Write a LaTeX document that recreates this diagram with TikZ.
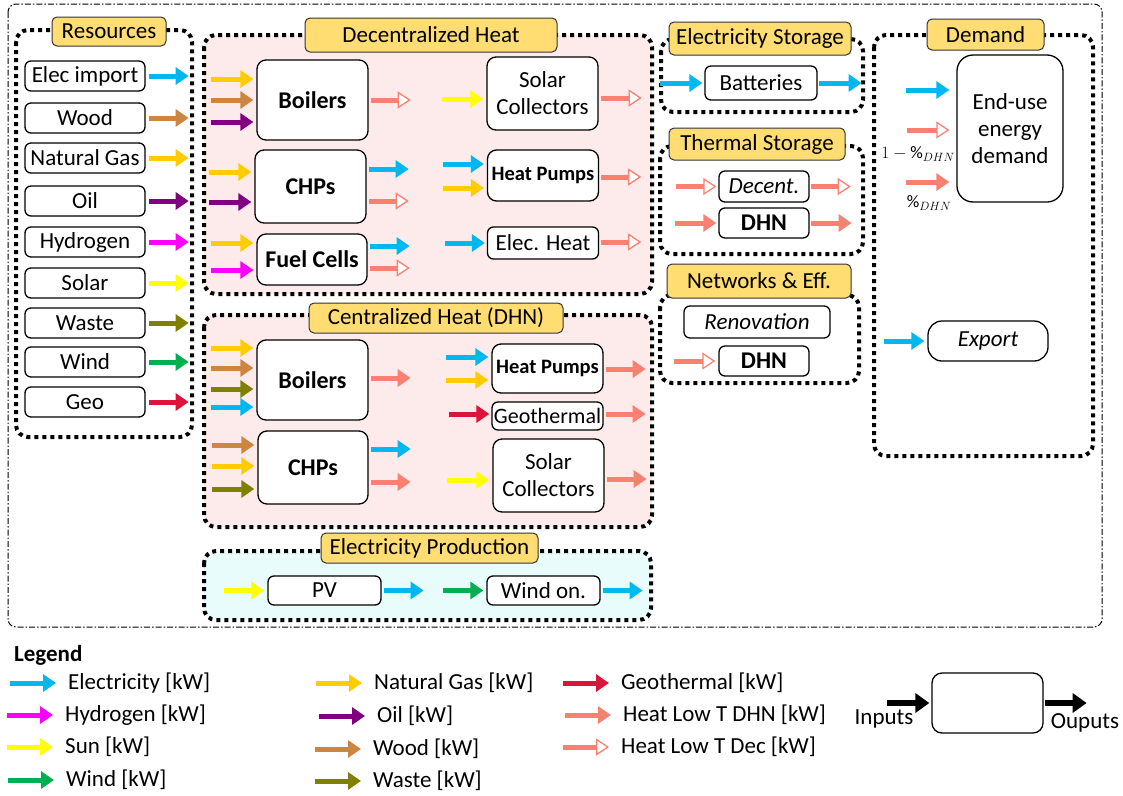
\documentclass[tikz,border=0pt]{standalone}
\usepackage{fontspec}
\setmainfont{Carlito}
\usetikzlibrary{arrows.meta}
\definecolor{cElec}{RGB}{0,184,240}
\definecolor{cWood}{RGB}{205,133,63}
\definecolor{cGas}{RGB}{255,204,0}
\definecolor{cOil}{RGB}{128,0,128}
\definecolor{cHyd}{RGB}{255,0,255}
\definecolor{cSun}{RGB}{255,255,0}
\definecolor{cWaste}{RGB}{128,128,0}
\definecolor{cWind}{RGB}{0,176,80}
\definecolor{cGeo}{RGB}{220,20,60}
\definecolor{cHeat}{RGB}{250,128,114}
\definecolor{titleY}{RGB}{255,221,115}
\definecolor{pinkbg}{RGB}{253,234,234}
\definecolor{cyanbg}{RGB}{233,252,252}

\begin{document}
\begin{tikzpicture}[x=1pt,y=-1pt,
    every node/.style={font=\fontsize{23}{27}\selectfont},
    box/.style={draw, rounded corners=9pt, line width=1.3pt, fill=white, align=center, inner sep=0pt},
    bld/.style={font=\fontsize{24}{28}\selectfont\bfseries},
    itl/.style={font=\fontsize{23}{27}\selectfont\itshape},
    sz/.style 2 args={minimum width=#1pt, minimum height=#2pt},
    ttl/.style={draw=black!80, fill=titleY, rounded corners=5pt, line width=1pt, inner sep=0pt},
    grp/.style={draw, line width=4pt, dash pattern=on 4pt off 4pt, rounded corners=12pt},
    outer/.style={draw, line width=1pt, dash pattern=on 6pt off 2pt on 1.5pt off 2pt, rounded corners=8pt},
    fl/.style={draw=#1, line width=5pt, -{Triangle[length=13pt,width=17pt]}},
    flo/.style={draw=cHeat, line width=5pt, -{Triangle[open,fill=white,length=13pt,width=17pt,line width=1.3pt 0 1]}},
    lgt/.style={anchor=west, inner sep=0pt}]
  \useasboundingbox (0,0) rectangle (1123,795);

  % frames
  \draw[outer] (8,4) rectangle (1102,627);
  \draw[grp] (16,30) rectangle (192,437);
  \draw[grp, fill=pinkbg] (204,35) rectangle (652,294);
  \draw[grp, fill=pinkbg] (204,315) rectangle (652,527);
  \draw[grp, fill=cyanbg] (204,551) rectangle (651,620);
  \draw[grp] (661,39) rectangle (863,112);
  \draw[grp] (660,146) rectangle (863,254);
  \draw[grp] (660,295) rectangle (859,383);
  \draw[grp] (874,35) rectangle (1093,456);

  \node[ttl, sz={114}{29}] (tRes) at (109,31.5) {Resources};
  \node[ttl, sz={252}{34}] (tDec) at (431,35) {Decentralized Heat};
  \node[ttl, sz={254}{30}] (tCen) at (436,318) {Centralized Heat (DHN)};
  \node[ttl, sz={217}{30}] (tElp) at (429.5,548) {Electricity Production};
  \node[ttl, sz={182}{33}] (tEls) at (760,38.5) {Electricity Storage};
  \node[ttl, sz={176}{32}] (tThs) at (757,144) {Thermal Storage};
  \node[ttl, sz={184}{34}] (tNet) at (759,281) {Networks \& Eff.};
  \node[ttl, sz={117}{31}] (tDem) at (985.5,34.5) {Demand};

  % resources
  \foreach \n/\t/\y/\c in {Elec/Elec import/76/cElec, Wood/Wood/118/cWood, Gas/Natural Gas/158/cGas,
      Oil/Oil/201/cOil, Hyd/Hydrogen/242/cHyd, Sun/Solar/283/cSun, Waste/Waste/323/cWaste,
      Wind/Wind/362/cWind, Geo/Geo/402/cGeo}{
    \node[box, sz={120}{30}, rounded corners=6pt] (r\n) at (85,\y) {\t};
    \draw[fl=\c] (r\n.east) ++(3,0) -- ++(40,0);
  }

  % decentralized heat
  \node[box, bld, sz={111}{80}] (dBoil) at (312.5,100) {Boilers};
  \node[box, bld, sz={111}{73}] (dCHP) at (310.5,186.5) {CHPs};
  \node[box, bld, sz={110}{51}] (dFC) at (312,259.5) {Fuel Cells};
  \node[box, sz={111}{73}] (dSol) at (542.5,93.5) {Solar\\Collectors};
  \node[box, sz={111}{51}, font=\fontsize{20.5}{24}\selectfont\bfseries] (dHP) at (543,175.5) {Heat Pumps};
  \node[box, sz={111}{32}, rounded corners=6pt] (dEH) at (543,243) {Elec. Heat};

  \foreach \y/\c in {79/cGas, 100/cWood, 122/cOil}
    \draw[fl=\c] (dBoil.west |- 0,\y) ++(-45,0) -- ++(42,0);
  \draw[flo] (dBoil.east |- 0,100) ++(2,0) -- ++(40,0);
  \foreach \y/\c in {172/cGas, 202/cOil}
    \draw[fl=\c] (dCHP.west |- 0,\y) ++(-45,0) -- ++(42,0);
  \draw[fl=cElec] (dCHP.east |- 0,169) ++(2,0) -- ++(40,0);
  \draw[flo] (dCHP.east |- 0,201) ++(2,0) -- ++(40,0);
  \foreach \y/\c in {243/cGas, 270/cHyd}
    \draw[fl=\c] (dFC.west |- 0,\y) ++(-45,0) -- ++(42,0);
  \draw[fl=cElec] (dFC.east |- 0,246) ++(2,0) -- ++(40,0);
  \draw[flo] (dFC.east |- 0,268) ++(2,0) -- ++(40,0);
  \draw[fl=cSun] (dSol.west |- 0,99) ++(-44,0) -- ++(41,0);
  \draw[flo] (dSol.east |- 0,98) ++(2,0) -- ++(41,0);
  \foreach \y/\c in {164/cElec, 188/cGas}
    \draw[fl=\c] (dHP.west |- 0,\y) ++(-44,0) -- ++(41,0);
  \draw[flo] (dHP.east |- 0,177) ++(2,0) -- ++(40,0);
  \draw[fl=cElec] (dEH.west |- 0,243) ++(-42,0) -- ++(40,0);
  \draw[flo] (dEH.east |- 0,242) ++(2,0) -- ++(40,0);

  % centralized heat
  \node[box, bld, sz={111}{80}] (cBoil) at (312.5,380) {Boilers};
  \node[box, bld, sz={110}{73}] (cCHP) at (313,467.5) {CHPs};
  \node[box, sz={111}{49}, font=\fontsize{20.5}{24}\selectfont\bfseries] (cHP) at (547.5,368.5) {Heat Pumps};
  \node[box, sz={111}{28}, rounded corners=6pt, font=\fontsize{22}{26}\selectfont] (cGeo) at (547.5,416) {Geothermal};
  \node[box, sz={111}{73}] (cSol) at (548.5,475.5) {Solar\\Collectors};

  \foreach \y/\c in {348/cGas, 368/cWood, 389/cWaste, 407/cElec}
    \draw[fl=\c] (cBoil.west |- 0,\y) ++(-45,0) -- ++(42,0);
  \draw[fl=cHeat] (cBoil.east |- 0,378) ++(2,0) -- ++(40,0);
  \foreach \y/\c in {445/cWood, 466/cGas, 489/cWaste}
    \draw[fl=\c] (cCHP.west |- 0,\y) ++(-45,0) -- ++(42,0);
  \draw[fl=cElec] (cCHP.east |- 0,449) ++(2,0) -- ++(40,0);
  \draw[fl=cHeat] (cCHP.east |- 0,482) ++(2,0) -- ++(40,0);
  \foreach \y/\c in {357/cElec, 380/cGas}
    \draw[fl=\c] (cHP.west |- 0,\y) ++(-45,0) -- ++(42,0);
  \draw[fl=cHeat] (cHP.east |- 0,369) ++(2,0) -- ++(40,0);
  \draw[fl=cGeo] (cGeo.west |- 0,414) ++(-42,0) -- ++(40,0);
  \draw[fl=cHeat] (cGeo.east |- 0,414) ++(2,0) -- ++(40,0);
  \draw[fl=cSun] (cSol.west |- 0,480) ++(-45,0) -- ++(42,0);
  \draw[fl=cHeat] (cSol.east |- 0,479) ++(2,0) -- ++(40,0);

  % electricity production
  \node[box, sz={113}{29}, rounded corners=6pt] (ePV) at (324.5,590.5) {PV};
  \node[box, sz={113}{29}, rounded corners=6pt] (eWind) at (543.5,590.5) {Wind on.};
  \draw[fl=cSun] (ePV.west) ++(-43,0) -- ++(40,0);
  \draw[fl=cElec] (ePV.east) ++(2,0) -- ++(40,0);
  \draw[fl=cWind] (eWind.west) ++(-43,0) -- ++(40,0);
  \draw[fl=cElec] (eWind.east) ++(2,0) -- ++(40,0);

  % storage and networks
  \node[box, sz={112}{34}, rounded corners=6pt] (sBat) at (761,83) {Batteries};
  \draw[fl=cElec] (sBat.west) ++(-44,0) -- ++(42,0);
  \draw[fl=cElec] (sBat.east) ++(1,0) -- ++(43,0);
  \node[box, itl, sz={90}{31}, rounded corners=6pt] (tDecS) at (764,186.5) {Decent.};
  \node[box, bld, sz={90}{30}, rounded corners=6pt] (tDHN) at (764,223) {DHN};
  \draw[flo] (tDecS.west) ++(-42,0) -- ++(40,0);
  \draw[flo] (tDecS.east) ++(1,0) -- ++(40,0);
  \draw[fl=cHeat] (tDHN.west) ++(-43,0) -- ++(41,0);
  \draw[fl=cHeat] (tDHN.east) ++(1,0) -- ++(41,0);
  \node[box, itl, sz={146}{32}, rounded corners=6pt] (nRen) at (757,322) {Renovation};
  \node[box, bld, sz={90}{30}, rounded corners=6pt] (nDHN) at (764,361) {DHN};
  \draw[flo] (nDHN.west) ++(-44,0) -- ++(41,0);

  % demand
  \node[box, sz={106}{147}, rounded corners=16pt] (dmEnd) at (1010,128.5) {End-use\\energy\\demand};
  \draw[fl=cElec] (dmEnd.west |- 0,90) ++(-50,0) -- ++(43,0);
  \draw[flo] (dmEnd.west |- 0,130) ++(-49,0) -- ++(42,0);
  \draw[fl=cHeat] (dmEnd.west |- 0,182) ++(-50,0) -- ++(43,0);
  \node[font=\fontsize{17.5}{20}\selectfont] (lOne) at (918,154) {$1-\%_{DHN}$};
  \node[font=\fontsize{17.5}{20}\selectfont] (lPct) at (929,203) {$\%_{DHN}$};
  \node[box, itl, sz={120}{40}, rounded corners=14pt] (dmExp) at (988,341) {Export};
  \draw[fl=cElec] (dmExp.west) ++(-43,0) -- ++(40,0);

  % legend
  \node[lgt, font=\fontsize{23}{27}\selectfont\bfseries] (lgT) at (14,655) {Legend};
  \foreach \n/\t/\x/\y/\c in {Elec/Electricity [kW]/68/683/cElec, Hyd/Hydrogen [kW]/65/715/cHyd,
      Sun/Sun [kW]/65/747/cSun, Wind/Wind [kW]/66/780/cWind,
      Gas/Natural Gas [kW]/374/683/cGas, Oil/Oil [kW]/377/716/cOil,
      Wood/Wood [kW]/373/749/cWood, Waste/Waste [kW]/373/781/cWaste,
      Geo/Geothermal [kW]/621/683/cGeo, Dhn/Heat Low T DHN [kW]/623/715/cHeat}{
    \node[lgt] (lg\n) at (\x,\y) {\t};
    \draw[fl=\c] (lg\n.west) ++(-58,0) -- ++(46,0);
  }
  \node[lgt] (lgDec) at (621,747) {Heat Low T Dec [kW]};
  \draw[flo] (lgDec.west) ++(-58,0) -- ++(46,0);

  \node[box, sz={111}{60}, rounded corners=10pt] (lgBox) at (987.5,703) {};
  \draw[line width=6pt, -{Triangle[length=14pt,width=19pt]}] (lgBox.west) ++(-44,0) -- ++(42,0);
  \draw[line width=6pt, -{Triangle[length=14pt,width=19pt]}] (lgBox.east) ++(1,0) -- ++(42,0);
  \node (lgIn) at (884,719) {Inputs};
  \node (lgOut) at (1085,723) {Ouputs};
\end{tikzpicture}
\end{document}
